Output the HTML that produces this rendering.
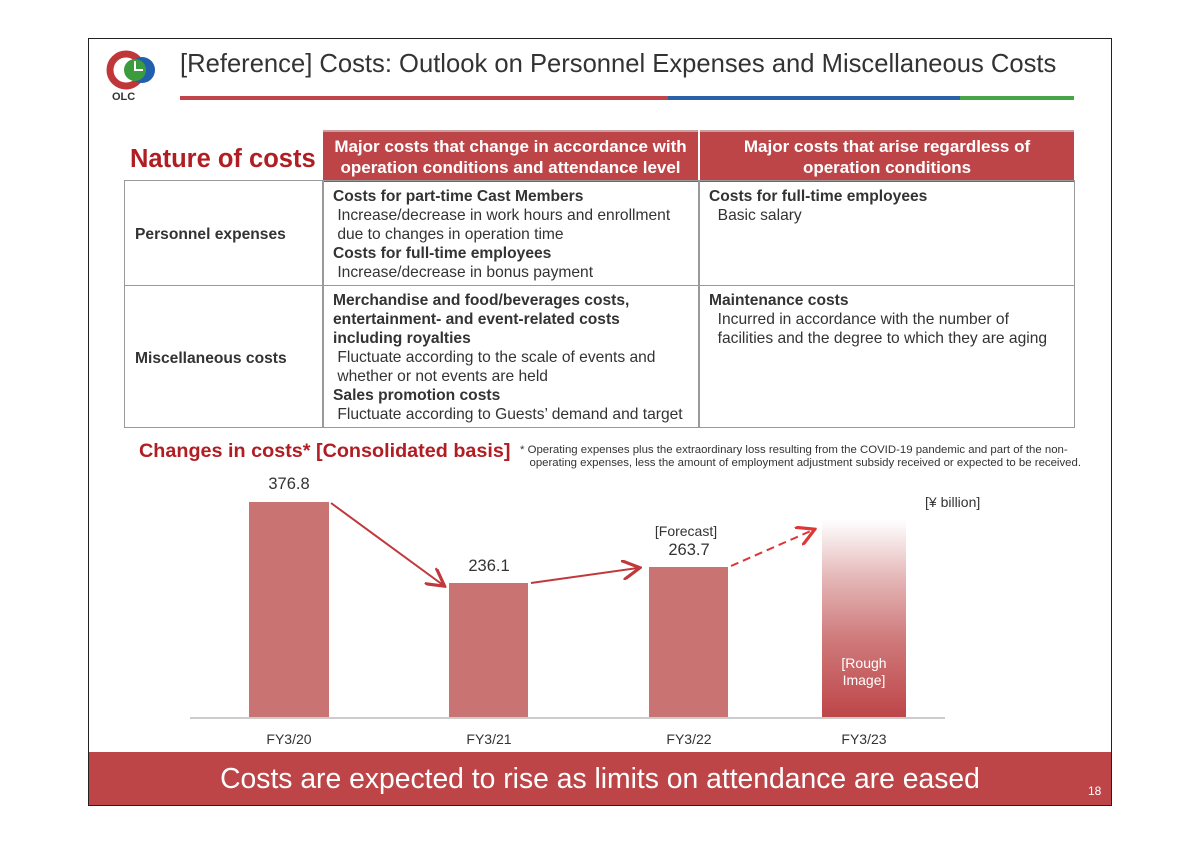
<!DOCTYPE html>
<html><head><meta charset="utf-8"><style>
body{margin:0;width:1200px;height:845px;background:#fff;font-family:"Liberation Sans",sans-serif;position:relative;overflow:hidden;color:#333}
.a{position:absolute}
.frame{left:88px;top:38px;width:1024px;height:768px;border:1px solid #222;box-sizing:border-box}
.hd{background:#bd4548;color:#fff;font-weight:bold;font-size:17px;text-align:center;line-height:21px;display:flex;align-items:center;justify-content:center;border-top:2px solid #c9a0a0;white-space:nowrap}
.cell{border:1.5px solid #999;box-sizing:border-box;font-size:15.6px;line-height:19px;color:#333;white-space:nowrap}
.b{font-weight:bold}
.bar{background:#c97473}
.lbl{font-size:16.5px;text-align:center;width:120px}
</style></head><body>
<div class="a frame"></div>
<svg class="a" style="left:104px;top:50px" width="56" height="54">
<circle cx="22" cy="20" r="16" fill="none" stroke="#c0373a" stroke-width="7"/>
<circle cx="38" cy="20" r="13" fill="#1f5fae"/>
<circle cx="31" cy="20" r="11" fill="#3c9b3c"/>
<path d="M31 11 L31 20 L39 20" stroke="#fff" stroke-width="2" fill="none"/>
<text x="8" y="50" font-size="11" font-weight="bold" fill="#333" font-family="Liberation Sans">OLC</text>
</svg>
<div class="a" style="left:180px;top:50px;font-size:25.6px;color:#333">[Reference] Costs: Outlook on Personnel Expenses and Miscellaneous Costs</div>
<div class="a" style="left:180px;top:96px;width:488px;height:4px;background:#c0444a"></div>
<div class="a" style="left:668px;top:96px;width:292px;height:4px;background:#2960a8"></div>
<div class="a" style="left:960px;top:96px;width:114px;height:4px;background:#46a546"></div>

<div class="a" style="left:130px;top:145px;font-size:25.5px;font-weight:bold;color:#b01e23">Nature of costs</div>
<div class="a hd" style="left:323px;top:130px;width:375px;height:50px">Major costs that change in accordance with<br>operation conditions and attendance level</div>
<div class="a hd" style="left:700px;top:130px;width:374px;height:50px">Major costs that arise regardless of<br>operation conditions</div>

<div class="a cell" style="left:124px;top:180px;width:200px;height:106px"><div class="a b" style="left:10px;top:44px">Personnel expenses</div></div>
<div class="a cell" style="left:322px;top:180px;width:378px;height:106px;padding:6px 10px">
<span class="b">Costs for part-time Cast Members</span><br>&nbsp;Increase/decrease in work hours and enrollment<br>&nbsp;due to changes in operation time<br><span class="b">Costs for full-time employees</span><br>&nbsp;Increase/decrease in bonus payment</div>
<div class="a cell" style="left:698px;top:180px;width:377px;height:106px;padding:6px 10px"><span class="b">Costs for full-time employees</span><br>&nbsp;&nbsp;Basic salary</div>
<div class="a cell" style="left:124px;top:285px;width:200px;height:143px"><div class="a b" style="left:10px;top:63px">Miscellaneous costs</div></div>
<div class="a cell" style="left:322px;top:285px;width:378px;height:143px;padding:5px 10px">
<span class="b">Merchandise and food/beverages costs,<br>entertainment- and event-related costs<br>including royalties</span><br>&nbsp;Fluctuate according to the scale of events and<br>&nbsp;whether or not events are held<br><span class="b">Sales promotion costs</span><br>&nbsp;Fluctuate according to Guests’ demand and target</div>
<div class="a cell" style="left:698px;top:285px;width:377px;height:143px;padding:5px 10px"><span class="b">Maintenance costs</span><br>&nbsp;&nbsp;Incurred in accordance with the number of<br>&nbsp;&nbsp;facilities and the degree to which they are aging</div>

<div class="a" style="left:139px;top:440px;font-size:19.8px;font-weight:bold;color:#b01e23">Changes in costs* [Consolidated basis]</div>
<div class="a" style="left:520px;top:444px;font-size:11.4px;line-height:13px;color:#333;white-space:nowrap">* Operating expenses plus the extraordinary loss resulting from the COVID-19 pandemic and part of the non-<br>&nbsp;&nbsp;&nbsp;operating expenses, less the amount of employment adjustment subsidy received or expected to be received.</div>

<div class="a" style="left:925px;top:494px;font-size:14px">[¥ billion]</div>
<div class="a bar" style="left:249px;top:502px;width:80px;height:216px"></div>
<div class="a bar" style="left:449px;top:583px;width:79px;height:135px"></div>
<div class="a bar" style="left:649px;top:567px;width:79px;height:151px"></div>
<div class="a" style="left:822px;top:520px;width:84px;height:198px;background:linear-gradient(#fff 0%,#e4b5b5 30%,#cf7a7b 60%,#bd4548 100%)"></div>
<div class="a" style="left:190px;top:717px;width:755px;height:2px;background:#ccc"></div>
<div class="a lbl" style="left:229px;top:475px">376.8</div>
<div class="a lbl" style="left:429px;top:557px">236.1</div>
<div class="a lbl" style="left:629px;top:541px">263.7</div>
<div class="a" style="left:626px;top:523px;width:120px;text-align:center;font-size:14px">[Forecast]</div>
<div class="a" style="left:804px;top:655px;width:120px;text-align:center;font-size:14px;line-height:17px;color:#fff">[Rough<br>Image]</div>
<svg class="a" style="left:0;top:0" width="1200" height="845">
<defs><marker id="m" markerWidth="10" markerHeight="10" refX="8" refY="5" orient="auto"><path d="M0 0 L9 5 L0 10" fill="none" stroke="#c0393c" stroke-width="1.6"/></marker>
<marker id="m2" markerWidth="10" markerHeight="10" refX="8" refY="5" orient="auto"><path d="M0 0 L9 5 L0 10" fill="none" stroke="#e03535" stroke-width="1.6"/></marker></defs>
<line x1="331" y1="503" x2="443" y2="585" stroke="#c0393c" stroke-width="2" marker-end="url(#m)"/>
<line x1="531" y1="583" x2="638" y2="568" stroke="#c0393c" stroke-width="2" marker-end="url(#m)"/>
<line x1="731" y1="566" x2="813" y2="530" stroke="#e03535" stroke-width="2" stroke-dasharray="8,5" marker-end="url(#m2)"/>
</svg>
<div class="a lbl" style="left:229px;top:731px;font-size:14px">FY3/20</div>
<div class="a lbl" style="left:429px;top:731px;font-size:14px">FY3/21</div>
<div class="a lbl" style="left:629px;top:731px;font-size:14px">FY3/22</div>
<div class="a lbl" style="left:804px;top:731px;font-size:14px">FY3/23</div>

<div class="a" style="left:89px;top:752px;width:1022px;height:53px;background:#bd4548"></div>
<div class="a" style="left:89px;top:762px;width:1022px;text-align:center;font-size:28.3px;color:#fff">Costs are expected to rise as limits on attendance are eased</div>
<div class="a" style="left:1088px;top:784px;font-size:12px;color:#fff">18</div>
</body></html>
